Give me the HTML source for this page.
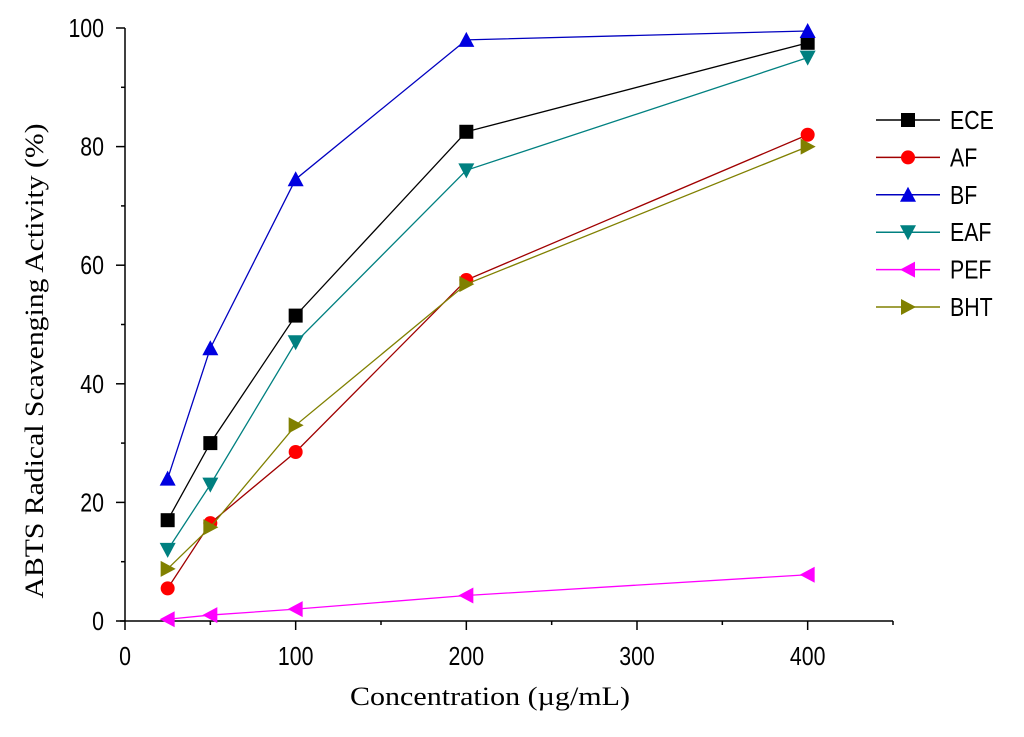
<!DOCTYPE html>
<html><head><meta charset="utf-8"><style>body{margin:0;background:#fff}</style></head><body>
<svg id="c" width="1024" height="732" xmlns="http://www.w3.org/2000/svg"></svg>
<script>
const categories=[25,50,100,200,400];
const ece=[17,30,51.5,82.5,97.5];
const af=[5.5,16.5,28.5,57.5,82];
const bf=[24,46,74.5,98,99.5];
const eaf=[12,23,47,76,95];
const pef=[0.3,1,2,4.3,7.8];
const bht=[8.8,15.8,33,56.8,80];
const xTicks=[0,100,200,300,400];
const yTicks=[0,20,40,60,80,100];
const svg=document.getElementById('c');const NS='http://www.w3.org/2000/svg';
const X=v=>125+v*(893-125)/450, Y=v=>621-v*(621-28)/100;
function el(t,a,p){const e=document.createElementNS(NS,t);for(const k in a)e.setAttribute(k,a[k]);(p||svg).appendChild(e);return e;}
function ntext(x,y,s,anchor,size,p){const t=el('text',{x:0,y:0,transform:`translate(${x},${y}) scale(0.82,1)`,'text-anchor':anchor,'font-family':'Liberation Sans,sans-serif','font-size':size},p);t.textContent=s;return t;}
let ax=el('line',{x1:125,y1:28,x2:125,y2:621,stroke:'#000','stroke-width':1.5});

ax=el('line',{x1:120,y1:621,x2:893,y2:621,stroke:'#000','stroke-width':1.5});

for(let v=0;v<=100;v+=10){el('line',{x1:125,y1:Y(v),x2:v%20?121:116,y2:Y(v),stroke:'#000','stroke-width':1.5});}
yTicks.forEach(v=>{const t=ntext(104,Y(v)+9,v,'end',26);
});
for(let v=0;v<=450;v+=50){el('line',{x1:X(v),y1:621,x2:X(v),y2:v%100?625:630,stroke:'#000','stroke-width':1.5});}
xTicks.forEach(v=>{const t=ntext(X(v),665,v,'middle',26);
});
let t=el('text',{x:490,y:705,'text-anchor':'middle','font-family':'Liberation Serif,serif','font-size':26,textLength:280,lengthAdjust:'spacingAndGlyphs'});t.textContent='Concentration (µg/mL)';

t=el('text',{x:0,y:0,transform:'translate(43,361) rotate(-90)','text-anchor':'middle','font-family':'Liberation Serif,serif','font-size':26,textLength:475,lengthAdjust:'spacingAndGlyphs'});t.textContent='ABTS Radical Scavenging Activity (%)';

function marker(type,x,y,c,g){const s=7;let pts;
 if(type==='sq')return el('rect',{x:x-s,y:y-s,width:2*s,height:2*s,fill:c},g);
 if(type==='ci')return el('circle',{cx:x,cy:y,r:s,fill:c},g);
 if(type==='up')pts=[[x,y-s-1],[x-s-1,y+s],[x+s+1,y+s]];
 if(type==='dn')pts=[[x,y+s+1],[x-s-1,y-s],[x+s+1,y-s]];
 if(type==='lf')pts=[[x-s-1,y],[x+s,y-s-1],[x+s,y+s+1]];
 if(type==='rt')pts=[[x+s+1,y],[x-s,y-s-1],[x-s,y+s+1]];
 return el('polygon',{points:pts.map(p=>p.join(',')).join(' '),fill:c},g);}
const series=[['ECE',ece,'#000','sq','#000'],['AF',af,'#f00','ci','#a00000'],['BF',bf,'#0000e0','up','#0000c0'],['EAF',eaf,'#008080','dn','#008080'],['PEF',pef,'#ff00ff','lf','#ff00ff'],['BHT',bht,'#808000','rt','#808000']];
series.forEach((s,i)=>{const g=el('g',{});
 el('polyline',{points:categories.map((c,j)=>X(c)+','+Y(s[1][j])).join(' '),fill:'none',stroke:s[4],'stroke-width':1.3},g);
 categories.forEach((c,j)=>{const m=marker(s[3],X(c),Y(s[1][j]),s[2],g);});
 const ly=120+i*37.4;const lg=el('g',{});
 el('line',{x1:876,y1:ly,x2:940,y2:ly,stroke:s[4],'stroke-width':1.5},lg);marker(s[3],908,ly,s[2],lg);
 ntext(950,ly+9,s[0],'start',26,lg);});
</script></body></html>
